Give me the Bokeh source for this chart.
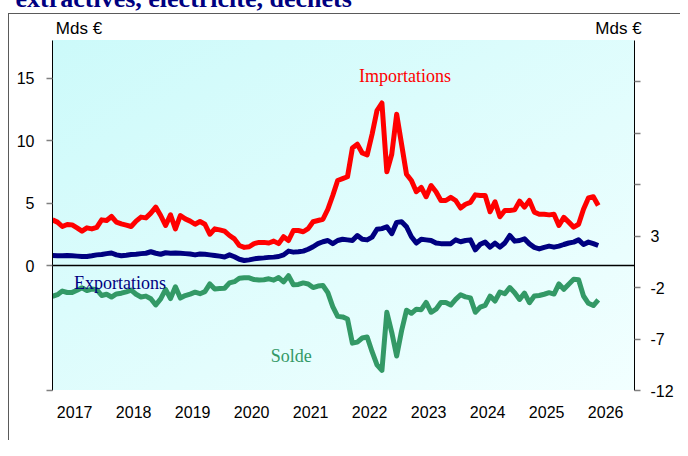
from bokeh.plotting import figure
from bokeh.models import Range1d, LinearAxis, FixedTicker, Span, Label, Title
from bokeh.embed import file_html
from bokeh.resources import INLINE

# ---------------- data (monthly, from Feb 2017), Mds EUR ----------------
first_year = 2017
first_month = 2
years = [2017, 2018, 2019, 2020, 2021, 2022, 2023, 2024, 2025, 2026]

imports = [3.65, 3.47, 3.12, 3.28, 3.25, 3.01, 2.75, 3.01, 2.93, 3.05,
           3.65, 3.6, 3.92, 3.47, 3.33, 3.23, 3.12, 3.55, 3.87, 3.81,
           4.19, 4.67, 4.0, 3.2, 4.05, 2.93, 4.0, 3.73, 3.55, 3.3,
           3.52, 3.3, 2.5, 2.93, 2.85, 2.75, 2.4, 2.13, 1.6, 1.45,
           1.5, 1.75, 1.85, 1.85, 1.8, 1.95, 1.75, 2.3, 2.0, 2.8,
           2.8, 2.7, 2.95, 3.5, 3.6, 3.7, 4.5, 5.6, 6.8, 6.95,
           7.1, 9.4, 9.7, 9.0, 8.85, 10.5, 12.4, 13.0, 7.5, 8.9,
           12.1, 9.7, 7.3, 6.8, 5.9, 6.25, 5.5, 6.4, 5.9, 5.2,
           5.2, 5.45, 5.2, 4.6, 4.9, 5.05, 5.65, 5.6, 5.6, 4.3,
           5.1, 3.9, 4.4, 4.4, 4.45, 5.15, 4.67, 5.2, 4.27, 4.1,
           4.1, 4.05, 4.1, 3.2, 3.85, 3.47, 3.07, 3.3, 4.5, 5.4,
           5.5, 4.8]

exports = [0.8, 0.78, 0.78, 0.8, 0.78, 0.75, 0.72, 0.72, 0.78, 0.85,
           0.88, 0.95, 1.0, 0.85, 0.78, 0.82, 0.88, 0.9, 0.95, 0.98,
           1.1, 0.98, 0.9, 1.02, 0.98, 1.0, 0.98, 0.95, 0.92, 0.85,
           0.92, 0.9, 0.85, 0.8, 0.75, 0.68, 0.85, 0.7, 0.5, 0.4,
           0.45, 0.53, 0.58, 0.61, 0.65, 0.67, 0.72, 0.85, 1.15, 1.07,
           1.1, 1.15, 1.3, 1.5, 1.75, 1.9, 2.0, 1.75, 2.0, 2.1,
           2.05, 2.0, 2.4, 2.1, 2.05, 2.27, 2.9, 2.95, 3.1, 2.55,
           3.45, 3.5, 3.1, 2.3, 1.8, 2.1, 2.05, 2.0, 1.8, 1.75,
           1.75, 1.75, 2.05, 1.9, 2.0, 2.05, 1.25, 1.7, 1.87, 1.47,
           1.79, 1.47, 1.8, 2.4, 1.95, 2.0, 2.13, 1.73, 1.45, 1.33,
           1.45, 1.55, 1.47, 1.55, 1.68, 1.8, 1.87, 2.05, 1.68, 1.87,
           1.75, 1.6]

solde = [-2.85, -2.69, -2.34, -2.48, -2.47, -2.26, -2.03, -2.29, -2.15, -2.2,
         -2.77, -2.65, -2.92, -2.62, -2.55, -2.41, -2.24, -2.65, -2.92, -2.83,
         -3.09, -3.69, -3.1, -2.18, -3.07, -1.93, -3.02, -2.78, -2.63, -2.45,
         -2.6, -2.4, -1.65, -2.13, -2.1, -2.07, -1.55, -1.43, -1.1, -1.05,
         -1.05, -1.22, -1.27, -1.24, -1.15, -1.28, -1.03, -1.45, -0.85, -1.73,
         -1.7, -1.55, -1.65, -2.0, -1.85, -1.8, -2.5, -3.85, -4.8, -4.85,
         -5.05, -7.4, -7.3, -6.9, -6.8, -8.23, -9.5, -10.05, -4.4, -6.35,
         -8.65, -6.2, -4.2, -4.5, -4.1, -4.15, -3.45, -4.4, -4.1, -3.45,
         -3.45, -3.7, -3.15, -2.7, -2.9, -3.0, -4.4, -3.9, -3.73, -2.83,
         -3.31, -2.43, -2.6, -2.0, -2.5, -3.15, -2.54, -3.47, -2.82, -2.77,
         -2.65, -2.5, -2.63, -1.65, -2.17, -1.67, -1.2, -1.25, -2.82, -3.53,
         -3.75, -3.2]

left_ticks = [-10, 0, 5, 10, 15]
right_ticks = [-12, -7, -2, 3, 8, 13, 18]
right_labelled = [-12, -7, -2, 3]
unit_label = "Mds €"
heading = "extractives, électricité, déchets"

# ---------------- layout ----------------
SHIFT = 24          # canvas rows hidden above the page top (cropped heading)
n = len(imports)
xs = [first_year + (first_month - 1 + k + 0.5) / 12.0 for k in range(n)]
x0 = xs[0]
x1 = x0 + 582.0 / 59.0

RED = "#FF0000"
NAVY = "#000080"
GREEN = "#339966"

p = figure(width=680, height=440 + SHIFT, output_backend="svg", toolbar_location=None,
           x_range=Range1d(x0, x1), y_range=Range1d(-10, 18),
           min_border_left=52, min_border_right=46, min_border_top=40 + SHIFT,
           min_border_bottom=50)
p.extra_y_ranges = {"right": Range1d(-12, 22)}
p.xgrid.visible = False
p.ygrid.visible = False
p.outline_line_color = None
p.background_fill_color = None
p.border_fill_color = None
top = 13 + SHIFT
p.styles = {
    "margin-top": f"-{SHIFT}px",
    "background": (f"linear-gradient(#5a5a5a, #5a5a5a) 8px {top}px / 680px 1px no-repeat, "
                   f"linear-gradient(#5a5a5a, #5a5a5a) 8px {top}px / 1px 500px no-repeat, "
                   f"linear-gradient(to bottom right, #CCFAFA, #F2FFFF) 52px {40 + SHIFT}px / 582px 350px no-repeat, "
                   "white"),
}

# heading (cropped by the page top, as in the source image)
p.title = Title(text=heading, align="left", offset=-37, standoff=4.8,
                text_font="Liberation Serif", text_font_style="bold",
                text_font_size="26px", text_color=NAVY)

# zero line
p.add_layout(Span(location=0, dimension="width", line_color="black", line_width=1.5))

# series
p.line(xs, imports, line_color=RED, line_width=5, line_join="round")
p.line(xs, exports, line_color=NAVY, line_width=5, line_join="round")
p.line(xs, solde, line_color=GREEN, line_width=5, line_join="round", y_range_name="right")

# axes
TICK_FONT = "Liberation Sans"
xa = p.xaxis[0]
xa.ticker = FixedTicker(ticks=[y + 0.5 for y in years])
xa.major_label_overrides = {y + 0.5: str(y) for y in years}
xa.axis_line_color = None
xa.major_tick_line_color = None
xa.minor_tick_line_color = None
xa.major_label_standoff = 9
xa.major_label_text_font = TICK_FONT
xa.major_label_text_font_size = "16px"
xa.major_label_text_color = "black"

# unit labels above the two value axes
unit_pos = [2017.574, 2026.718]
ta = LinearAxis(ticker=FixedTicker(ticks=unit_pos))
ta.major_label_overrides = {u_: unit_label for u_ in unit_pos}
ta.axis_line_color = None
ta.major_tick_line_color = None
ta.minor_tick_line_color = None
ta.major_tick_out = 0
ta.major_label_standoff = 3
ta.major_label_text_font = TICK_FONT
ta.major_label_text_font_size = "17px"
ta.major_label_text_color = "black"
p.add_layout(ta, "above")

ya = p.yaxis[0]
ya.ticker = FixedTicker(ticks=left_ticks)
ya.major_label_overrides = {t_: ("" if t_ < 0 else str(t_)) for t_ in left_ticks}
ya.axis_line_color = "black"
ya.major_tick_line_color = "#808080"
ya.major_tick_line_width = 1.5
ya.major_tick_out = 6
ya.major_tick_in = 0
ya.minor_tick_line_color = None
ya.major_label_standoff = 12
ya.major_label_text_font = TICK_FONT
ya.major_label_text_font_size = "16px"
ya.major_label_text_color = "black"

ra = LinearAxis(y_range_name="right", ticker=FixedTicker(ticks=right_ticks))
ra.major_label_overrides = {t_: (str(t_) if t_ in right_labelled else "") for t_ in right_ticks}
ra.axis_line_color = "black"
ra.major_tick_line_color = "#808080"
ra.major_tick_line_width = 1.5
ra.major_tick_out = 6
ra.major_tick_in = 0
ra.minor_tick_line_color = None
ra.major_label_standoff = 10
ra.major_label_text_font = TICK_FONT
ra.major_label_text_font_size = "16px"
ra.major_label_text_color = "black"
p.add_layout(ra, "right")

# series names
SERIF = "Liberation Serif"
p.add_layout(Label(x=2023.10, y=15.16, text="Importations", text_align="center",
                   text_baseline="alphabetic", text_font=SERIF, text_font_size="18px",
                   text_color=RED))
p.add_layout(Label(x=2018.27, y=-1.40, text="Exportations", text_align="center",
                   text_baseline="alphabetic", text_font=SERIF, text_font_size="18px",
                   text_color=NAVY))
p.add_layout(Label(x=2021.17, y=-7.24, text="Solde", text_align="center",
                   text_baseline="alphabetic", text_font=SERIF, text_font_size="18px",
                   text_color=GREEN))

open("out.html", "w").write(file_html(p, INLINE))
